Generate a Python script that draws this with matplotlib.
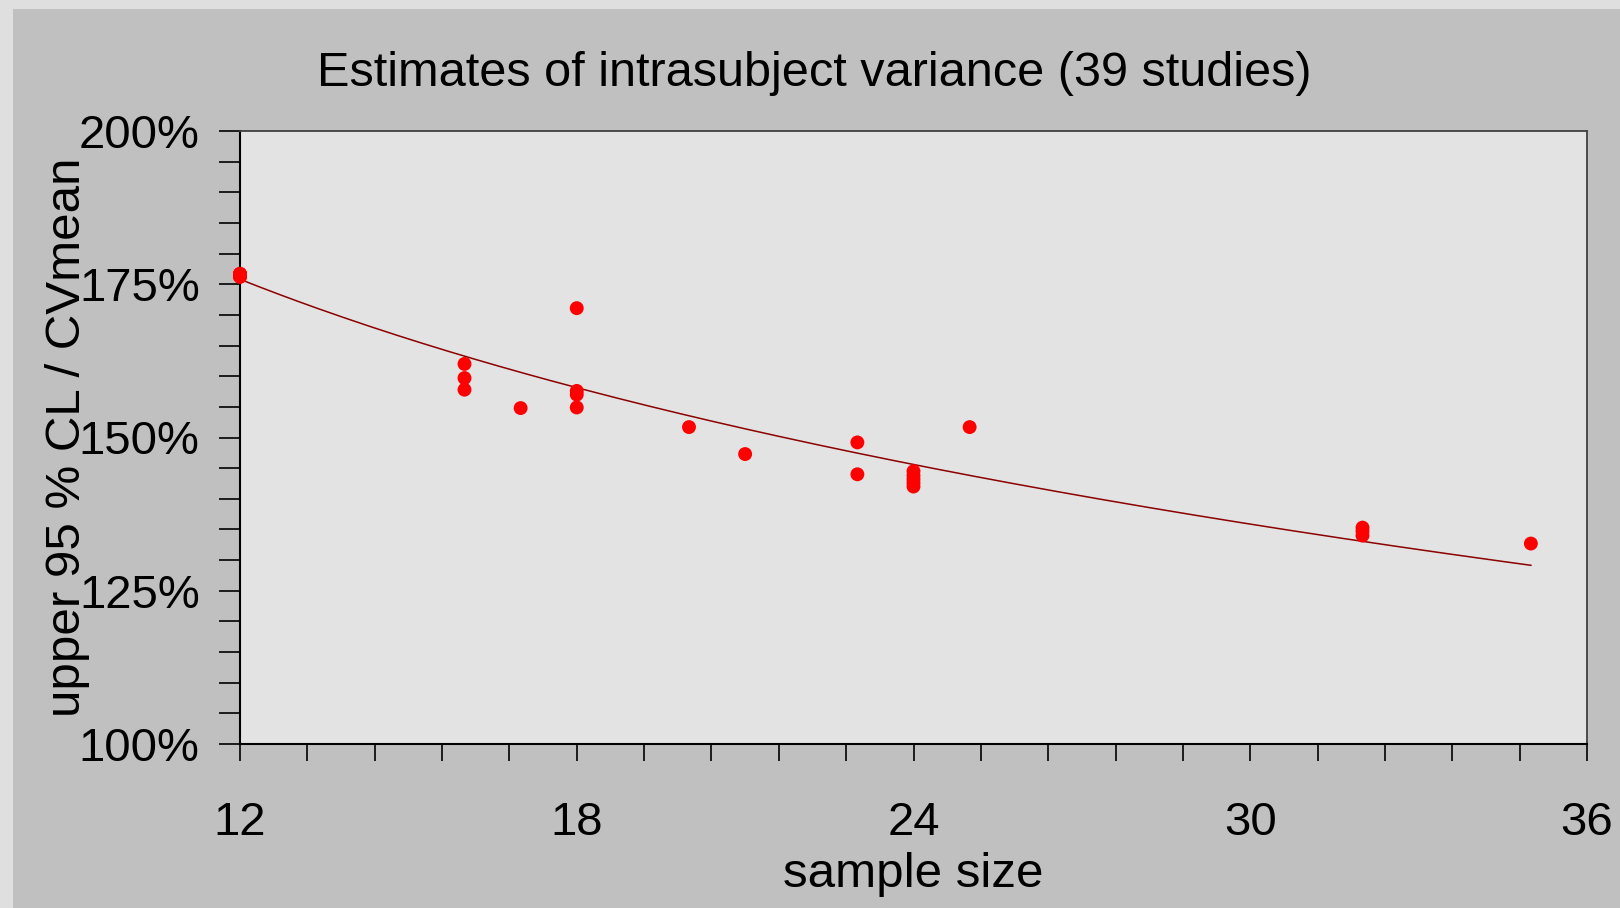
import numpy as np
import matplotlib
matplotlib.use('Agg')
import matplotlib.pyplot as plt
from matplotlib.ticker import MultipleLocator, PercentFormatter
from matplotlib.patches import Rectangle

plt.rcParams['font.family'] = ['Liberation Sans', 'DejaVu Sans']

# sample size of each study and its upper 95 % CL / CVmean (in %)
sample_size = [12] * 17 + [16, 16, 16, 17, 18, 18, 18, 18, 20, 21, 23, 23,
                           24, 24, 24, 24, 24, 25, 32, 32, 32, 35]
ratio = [176.2, 176.3, 176.3, 176.4, 176.4, 176.5, 176.5, 176.5, 176.6,
         176.6, 176.6, 176.7, 176.7, 176.4, 176.5, 176.3, 176.6,
         162.0, 159.7, 157.8, 154.8, 171.1, 157.6, 157.0, 154.9,
         151.7, 147.3, 149.2, 144.0,
         144.5, 143.8, 143.2, 142.6, 142.0, 151.7,
         135.3, 134.7, 134.0, 132.7]

x_ticks = [12, 18, 24, 30, 36]
y_ticks = [100, 125, 150, 175, 200]

x = np.array(sample_size, dtype=float)
y = np.array(ratio)

# logarithmic trend line
b, a = np.polyfit(np.log(x), y, 1)
xf = np.linspace(x.min(), x.max(), 200)
yf = a + b * np.log(xf)

fig = plt.figure(figsize=(16.2, 9.08), dpi=100)
fig.patch.set_facecolor('#dfdfdf')
fig.patches.append(Rectangle((13 / 1620, 0), 1, 1 - 9 / 908, transform=fig.transFigure,
                             facecolor='#c0c0c0', edgecolor='none', zorder=-1))

ax = fig.add_axes([240 / 1620, 1 - 744 / 908, 1347 / 1620, 613 / 908])
ax.set_facecolor('#e3e3e3')

ax.plot(xf, yf, color='#8b0000', lw=1.1, zorder=3)
ax.scatter(x, y, s=100, color='#ff0000', edgecolors='none', zorder=4, clip_on=False)

ax.set_xlim(12, 36)
ax.set_ylim(100, 200)
ax.set_xticks(x_ticks)
ax.set_yticks(y_ticks)
ax.xaxis.set_minor_locator(MultipleLocator(1.2))
ax.yaxis.set_minor_locator(MultipleLocator(5))
ax.yaxis.set_major_formatter(PercentFormatter(decimals=0))

ax.tick_params(axis='both', which='both', direction='out', color='black', width=1.2)
ax.tick_params(axis='x', which='both', length=12)
ax.tick_params(axis='x', which='major', labelsize=34, pad=29)
ax.tick_params(axis='y', which='both', length=15)
ax.tick_params(axis='y', which='major', labelsize=34, pad=14)

for s in ['left', 'bottom']:
    ax.spines[s].set_color('black')
    ax.spines[s].set_linewidth(1.5)
for s in ['top', 'right']:
    ax.spines[s].set_color('#404040')
    ax.spines[s].set_linewidth(1.3)

ax.set_xlabel('sample size', fontsize=35.5, labelpad=5)
ax.set_ylabel('upper 95 % CL / CVmean', fontsize=35.5, labelpad=-8)

fig.text(814 / 1620, 1 - 74 / 908, 'Estimates of intrasubject variance (39 studies)',
         fontsize=35, ha='center', va='center')

fig.savefig('out.png', dpi=100, facecolor=fig.get_facecolor())
